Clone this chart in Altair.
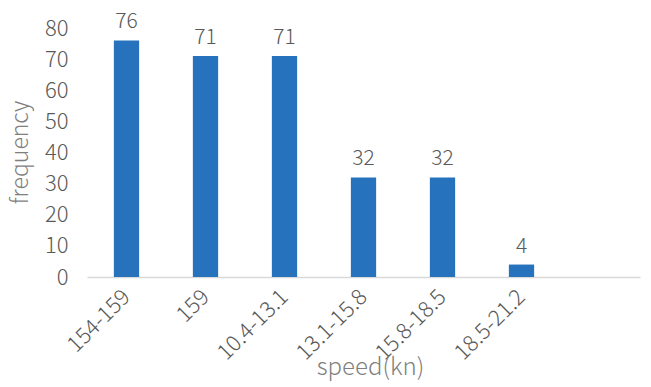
import altair as alt
import pandas as pd

# Speed bins and how many observations fall in each
speed_bins = ["154-159", "159", "10.4-13.1", "13.1-15.8", "15.8-18.5", "18.5-21.2"]
frequency = [76, 71, 71, 32, 32, 4]

# the axis keeps one empty slot after the last bin
axis_slots = speed_bins + [" "]

df = pd.DataFrame({"speed": speed_bins, "frequency": frequency})

FONT = "Noto Sans CJK SC"
GREY = "#595959"
LIGHT = 300

x_enc = alt.X(
    "speed:N",
    sort=axis_slots,
    scale=alt.Scale(domain=axis_slots, paddingInner=0.68, paddingOuter=0.34),
    axis=alt.Axis(
        title="speed(kn)",
        labelAngle=-45,
        labelAlign="right",
        labelBaseline="middle",
        labelPadding=16,
        labelFontSize=22,
        labelFontWeight=LIGHT,
        labelColor=GREY,
        labelFont=FONT,
        labelOverlap=False,
        ticks=False,
        domainColor="#D9D9D9",
        domainWidth=1.5,
        titleFont=FONT,
        titleFontSize=24,
        titleFontWeight=LIGHT,
        titleColor="#7F7F7F",
        titleX=283,
        titleY=97,
        titleBaseline="alphabetic",
    ),
)

y_enc = alt.Y(
    "frequency:Q",
    scale=alt.Scale(domain=[0, 80]),
    axis=alt.Axis(
        title="frequency",
        values=list(range(0, 81, 10)),
        tickCount=9,
        grid=False,
        domain=False,
        ticks=False,
        labelPadding=19,
        labelFontSize=22,
        labelFontWeight=LIGHT,
        labelColor=GREY,
        labelFont=FONT,
        labelOverlap=False,
        titleFont=FONT,
        titleFontSize=23,
        titleFontWeight=LIGHT,
        titleColor="#7F7F7F",
        titleX=-67,
        titleY=124,
        titleAngle=-90,
        titleAlign="center",
        titleBaseline="middle",
    ),
)

bars = alt.Chart(df).mark_bar(color="#2672BD").encode(x=x_enc, y=y_enc)

labels = alt.Chart(df).mark_text(
    dy=-8, fontSize=21, fontWeight=LIGHT, color=GREY, font=FONT, baseline="bottom"
).encode(x=x_enc, y=y_enc, text="frequency:Q")

chart = (
    alt.layer(bars, labels)
    .properties(
        width=553,
        height=249,
        autosize=alt.AutoSizeParams(type="none"),
        padding={"left": 87, "top": 28, "right": 11, "bottom": 110},
        background="white",
    )
    .configure_view(strokeWidth=0)
)

chart.save("out.html", embed_options={"renderer": "svg", "actions": False})
